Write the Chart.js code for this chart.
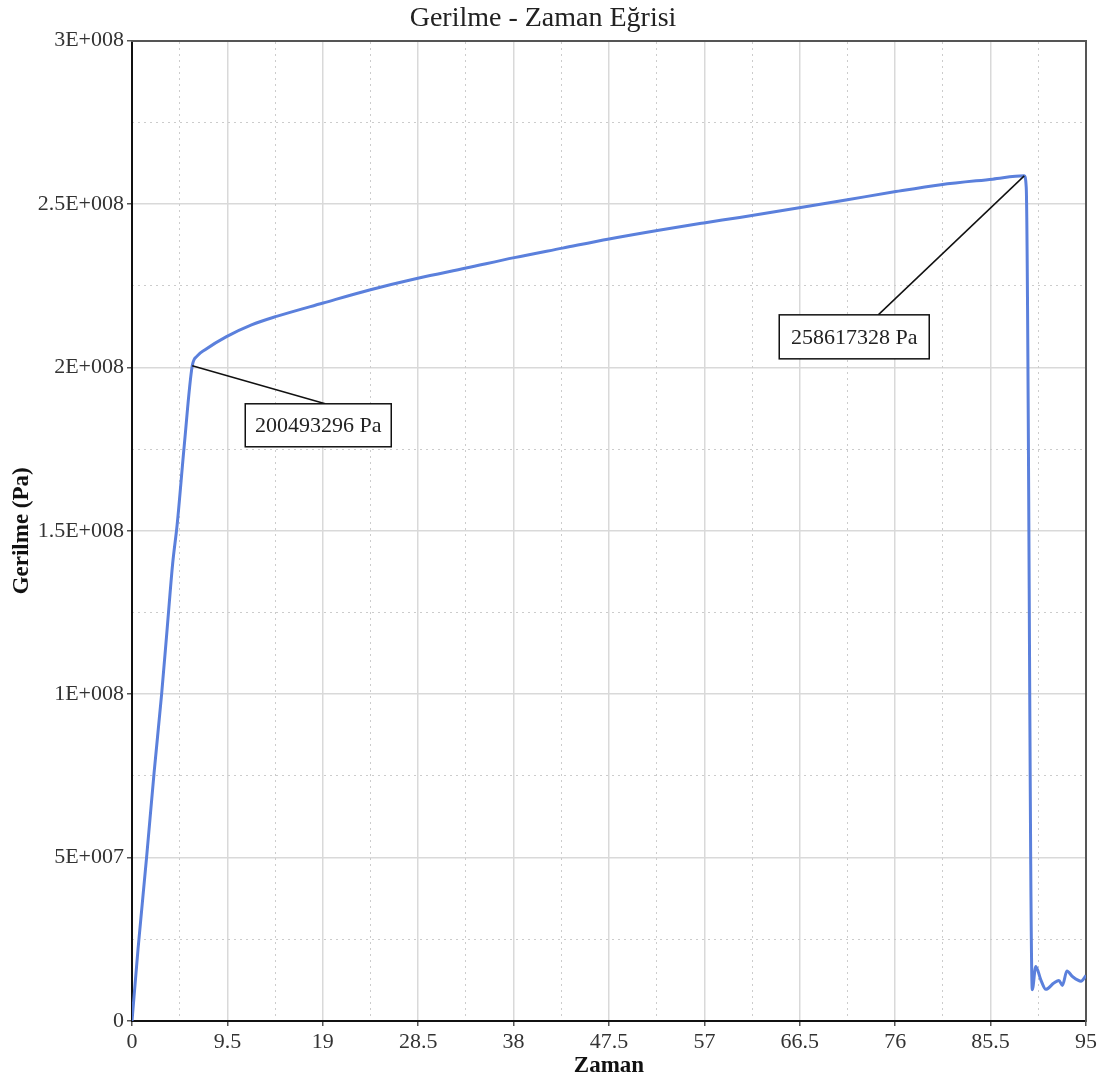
<!DOCTYPE html>
<html>
<head>
<meta charset="utf-8">
<title>Gerilme - Zaman Eğrisi</title>
<script src="https://cdn.jsdelivr.net/npm/chart.js@4.4.1/dist/chart.umd.min.js"></script>
<style>
  body { margin: 0; background: #fff; }
  #chart { display: block; }
</style>
</head>
<body>
<canvas id="chart" width="1103" height="1086"></canvas>
<script>
// values
var zaman = [0, 0.6, 1.45, 2.2, 2.95, 3.5, 4.05, 4.5, 5.2, 6.0,
             6.5, 7.28, 9.41, 11.9, 14.39, 19.03, 23.65, 28.46, 33.26, 38.07,
             42.87, 47.51, 52.31, 56.94, 60.51, 66.59, 71.24, 76.06, 80.54, 85.7,
             88.85, 89.05, 89.65, 90.0, 90.5, 91.0, 91.8, 92.3, 92.65, 93.1,
             93.65, 94.5, 95];
var gerilme = [0, 2.2e7, 5.0e7, 7.6e7, 1.0e8, 1.2e8, 1.4e8, 1.52e8, 1.76e8, 200493296,
               2.035e8, 2.054e8, 2.094e8, 2.130e8, 2.156e8, 2.197e8, 2.237e8, 2.273e8, 2.304e8, 2.336e8,
               2.365e8, 2.393e8, 2.419e8, 2.442e8, 2.459e8, 2.489e8, 2.513e8, 2.538e8, 2.559e8, 2.576e8,
               258617328, 2.55e8, 0.96e7, 1.67e7, 1.26e7, 0.97e7, 1.16e7, 1.24e7, 1.09e7, 1.53e7,
               1.36e7, 1.22e7, 1.39e7];

// labelled points
var notZaman = [6.0, 88.85];
var notGerilme = [200493296, 258617328];

var xMin = 0, xMax = 95, xStep = 9.5;
var yMin = 0, yMax = 3e8, yStep = 5e7;

var serif = "'Liberation Serif', 'Times New Roman', serif";

var points = [];
for (var i = 0; i < zaman.length; i++) {
    points.push({x: zaman[i], y: gerilme[i]});
}

function sci(v) {
    if (v === 0) return '0';
    var e = Math.floor(Math.log10(v) + 1e-9);
    var m = Math.round(v / Math.pow(10, e) * 100) / 100;
    return m + 'E+' + String(e).padStart(3, '0');
}

function isMajor(v, step) {
    var r = v / step;
    return Math.abs(r - Math.round(r)) < 1e-6;
}

// box placement relative to the labelled point, in pixels
var boxStyle = [
    {dx: 53, dy: 38, w: 146, h: 43, lineX: 80},
    {dx: -245, dy: 139, w: 150, h: 44, lineX: 99}
];

var notePlugin = {
    id: 'notes',
    afterDatasetsDraw: function(chart) {
        var ctx = chart.ctx;
        var xs = chart.scales.x, ys = chart.scales.y;
        ctx.save();
        for (var i = 0; i < notZaman.length; i++) {
            var px = xs.getPixelForValue(notZaman[i]);
            var py = ys.getPixelForValue(notGerilme[i]);
            var b = boxStyle[i];
            var left = px + b.dx, top = py + b.dy;
            ctx.strokeStyle = '#111';
            ctx.lineWidth = 1.5;
            ctx.beginPath();
            ctx.moveTo(px, py);
            ctx.lineTo(left + b.lineX, top);
            ctx.stroke();
            ctx.fillStyle = '#fff';
            ctx.fillRect(left, top, b.w, b.h);
            ctx.strokeRect(left, top, b.w, b.h);
            ctx.fillStyle = '#222';
            ctx.font = '22px ' + serif;
            ctx.textAlign = 'center';
            ctx.textBaseline = 'middle';
            ctx.fillText(notGerilme[i] + ' Pa', left + b.w / 2, top + b.h / 2 + 1);
        }
        ctx.restore();
    }
};

var ctx = document.getElementById('chart');

var myChart = new Chart(ctx, {
    type: 'line',
    data: {
        datasets: [{
            data: points,
            borderColor: '#5b80dc',
            borderWidth: 3,
            pointRadius: 0,
            cubicInterpolationMode: 'monotone',
            fill: false
        }]
    },
    options: {
        responsive: false,
        animation: false,
        layout: { padding: { top: 0, right: 17, bottom: 0, left: 0 } },
        plugins: {
            legend: { display: false },
            tooltip: { enabled: false },
            title: {
                display: true,
                text: 'Gerilme - Zaman Eğrisi',
                color: '#222',
                font: { family: serif, size: 28, weight: 'normal' },
                padding: { top: 2, bottom: 5 }
            }
        },
        scales: {
            x: {
                type: 'linear',
                position: 'bottom',
                min: xMin, max: xMax,
                afterFit: function(scale) { scale.height = 65; },
                ticks: {
                    stepSize: xStep,
                    color: '#333',
                    padding: 3,
                    maxRotation: 0,
                    font: { family: serif, size: 22 },
                    callback: function(v) { return String(Math.round(v * 10) / 10); }
                },
                grid: { color: '#d9d9d9', lineWidth: 1.5, tickLength: 5, tickColor: '#555' },
                border: { color: '#111', width: 2 },
                title: {
                    display: true,
                    text: 'Zaman',
                    color: '#111',
                    font: { family: serif, size: 23, weight: 'bold' },
                    padding: { top: 0, bottom: 6 }
                }
            },
            y: {
                type: 'linear',
                position: 'left',
                min: yMin, max: yMax,
                afterFit: function(scale) { scale.width = 132; },
                ticks: {
                    stepSize: yStep,
                    color: '#333',
                    padding: 3,
                    font: { family: serif, size: 22 },
                    callback: function(v) { return sci(v); }
                },
                grid: { color: '#d9d9d9', lineWidth: 1.5, tickLength: 5, tickColor: '#555' },
                border: { color: '#111', width: 2 },
                title: {
                    display: true,
                    text: 'Gerilme (Pa)',
                    color: '#111',
                    font: { family: serif, size: 23, weight: 'bold' },
                    padding: { top: 8, bottom: 0 }
                }
            },
            x2: {
                type: 'linear',
                position: 'top',
                min: xMin, max: xMax,
                afterFit: function(scale) { scale.height = 0; },
                ticks: { stepSize: xStep / 2, display: false },
                grid: {
                    drawTicks: false,
                    lineWidth: 1,
                    color: function(c) { return c.tick && isMajor(c.tick.value, xStep) ? 'rgba(0,0,0,0)' : '#cccccc'; }
                },
                border: { display: true, color: '#555', width: 2, dash: [2, 4] }
            },
            y2: {
                type: 'linear',
                position: 'right',
                min: yMin, max: yMax,
                afterFit: function(scale) { scale.width = 0; },
                ticks: { stepSize: yStep / 2, display: false },
                grid: {
                    drawTicks: false,
                    lineWidth: 1,
                    color: function(c) { return c.tick && isMajor(c.tick.value, yStep) ? 'rgba(0,0,0,0)' : '#cccccc'; }
                },
                border: { display: true, color: '#555', width: 2, dash: [2, 4] }
            }
        }
    },
    plugins: [notePlugin]
});
</script>
</body>
</html>
